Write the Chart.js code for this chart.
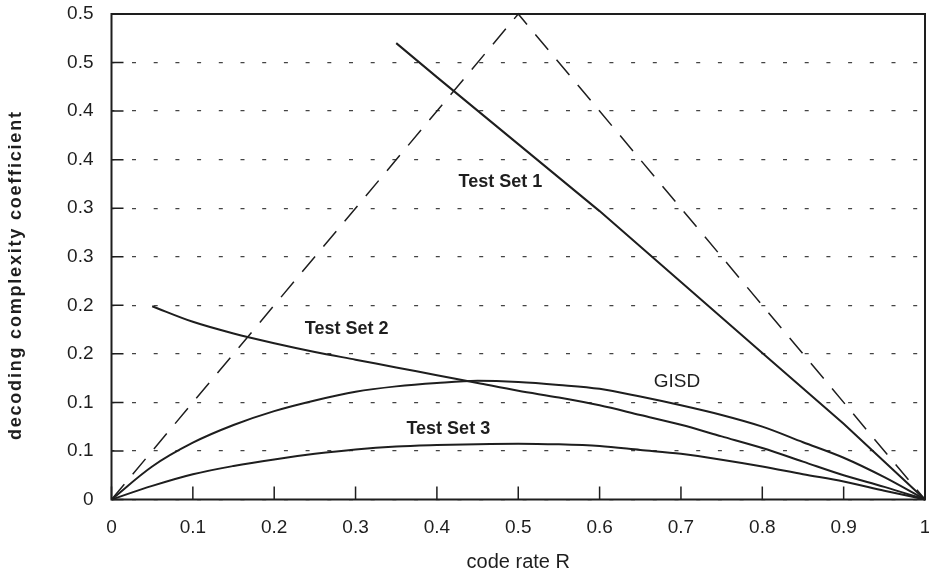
<!DOCTYPE html>
<html>
<head>
<meta charset="utf-8">
<script src="https://cdn.jsdelivr.net/npm/chart.js@4.4.1/dist/chart.umd.min.js"></script>
<style>
  html, body { margin: 0; padding: 0; background: #fff; }
  #wrap { width: 929px; height: 573px; }
</style>
</head>
<body>
<div id="wrap"><canvas id="complexityChart" width="929" height="573"></canvas></div>
<script>
// code rate R, sampled every 0.05
const rate = [0, 0.05, 0.1, 0.15, 0.2, 0.25, 0.3, 0.35, 0.4, 0.45, 0.5,
              0.55, 0.6, 0.65, 0.7, 0.75, 0.8, 0.85, 0.9, 0.95, 1];
const gisd = [0, 0.034, 0.0585, 0.0767, 0.091, 0.102, 0.111, 0.1165, 0.12, 0.1222, 0.121,
              0.118, 0.114, 0.106, 0.097, 0.087, 0.075, 0.059, 0.043, 0.023, 0];
const testSet2 = [null, 0.199, 0.183, 0.171, 0.161, 0.152, 0.144, 0.136, 0.128, 0.12, 0.112,
                  0.105, 0.097, 0.087, 0.077, 0.065, 0.053, 0.039, 0.025, 0.013, 0];
const testSet3 = [0, 0.014, 0.026, 0.0345, 0.0413, 0.047, 0.0515, 0.0545, 0.056, 0.057, 0.0575,
                  0.0568, 0.055, 0.051, 0.047, 0.041, 0.034, 0.026, 0.0185, 0.009, 0];
const testSet1Rate = [0.35, 0.4, 0.5, 0.6, 0.7, 0.8, 0.9, 1];
const testSet1 = [0.47, 0.435, 0.366, 0.297, 0.224, 0.151, 0.078, 0];
const boundRate = [0, 0.5, 1];
const bound = [0, 0.5, 0];

const xTickLabels = ['0', '0.1', '0.2', '0.3', '0.4', '0.5', '0.6', '0.7', '0.8', '0.9', '1'];
// the original prints the 0.05 steps rounded to one decimal
const yTickLabels = ['0', '0.1', '0.1', '0.2', '0.2', '0.3', '0.3', '0.4', '0.4', '0.5', '0.5'];

const yTitle = 'decoding complexity coefficient';

// curve names placed in data coordinates
const curveLabels = [
  { text: 'Test Set 1', r: 0.478, v: 0.327, bold: true },
  { text: 'Test Set 2', r: 0.289, v: 0.1754, bold: true },
  { text: 'GISD', r: 0.695, v: 0.1217, bold: false },
  { text: 'Test Set 3', r: 0.414, v: 0.0725, bold: true }
];

const ink = '#1e1e1e';
const fontFamily = "'Liberation Sans', Arial, Helvetica, sans-serif";

function toPoints(xs, ys) {
  return xs.map((x, i) => ({ x: x, y: ys[i] })).filter(p => p.y !== null);
}

function lineSet(label, xs, ys, extra) {
  return Object.assign({
    label: label,
    data: toPoints(xs, ys),
    borderColor: ink,
    borderWidth: 2,
    pointRadius: 0,
    fill: false,
    cubicInterpolationMode: 'monotone',
    clip: 4
  }, extra || {});
}

// drop the label overhang chart.js reserves, the box is placed by layout padding
function noOverhang(scale) {
  scale.paddingTop = 0;
  scale.paddingBottom = 0;
  scale.paddingLeft = 0;
  scale.paddingRight = 0;
}

// box, inward tick marks, curve names and the spaced-out y title
const framePlugin = {
  id: 'frame',
  afterDatasetsDraw(chart) {
    const ctx = chart.ctx;
    const area = chart.chartArea;
    const xs = chart.scales.x;
    const ys = chart.scales.y;
    ctx.save();
    ctx.strokeStyle = ink;
    ctx.lineWidth = 2;
    ctx.strokeRect(area.left, area.top, area.right - area.left, area.bottom - area.top);

    ctx.lineWidth = 1.5;
    ctx.beginPath();
    xs.ticks.forEach(t => {
      const px = xs.getPixelForValue(t.value);
      ctx.moveTo(px, area.bottom);
      ctx.lineTo(px, area.bottom - 13);
    });
    ys.ticks.forEach(t => {
      const py = ys.getPixelForValue(t.value);
      ctx.moveTo(area.left, py);
      ctx.lineTo(area.left + 12, py);
    });
    ctx.stroke();

    ctx.fillStyle = ink;
    ctx.textAlign = 'center';
    ctx.textBaseline = 'middle';
    curveLabels.forEach(l => {
      ctx.font = (l.bold ? 'bold 18px ' : '19px ') + fontFamily;
      ctx.fillText(l.text, xs.getPixelForValue(l.r), ys.getPixelForValue(l.v));
    });

    // y title sits a little below the middle of the axis in the original
    ctx.save();
    ctx.translate(16, ys.getPixelForValue(0.231));
    ctx.rotate(-Math.PI / 2);
    ctx.font = 'bold 18px ' + fontFamily;
    if ('letterSpacing' in ctx) ctx.letterSpacing = '1.8px';
    ctx.fillText(yTitle, 0, 0);
    ctx.restore();
    ctx.restore();
  }
};

const ctx = document.getElementById('complexityChart').getContext('2d');
new Chart(ctx, {
  type: 'line',
  data: {
    datasets: [
      lineSet('bound', boundRate, bound, { borderWidth: 1.5, borderDash: [20, 13], tension: 0, cubicInterpolationMode: 'default' }),
      lineSet('Test Set 1', testSet1Rate, testSet1, { tension: 0, cubicInterpolationMode: 'default' }),
      lineSet('Test Set 2', rate, testSet2),
      lineSet('GISD', rate, gisd),
      lineSet('Test Set 3', rate, testSet3)
    ]
  },
  options: {
    responsive: false,
    animation: false,
    layout: { padding: { top: 14, right: 4, left: 0, bottom: 0 } },
    plugins: {
      legend: { display: false },
      tooltip: { enabled: false }
    },
    scales: {
      x: {
        type: 'linear',
        min: 0,
        max: 1,
        afterFit(scale) { scale.height = 73.5; noOverhang(scale); },
        grid: { display: false, drawTicks: false },
        border: { display: false },
        ticks: {
          stepSize: 0.1,
          padding: 17,
          color: ink,
          font: { family: fontFamily, size: 19 },
          callback: (value, index) => xTickLabels[index]
        },
        title: {
          display: true,
          text: 'code rate R',
          color: ink,
          padding: 0,
          font: { family: fontFamily, size: 20, lineHeight: 1.1 }
        }
      },
      y: {
        type: 'linear',
        min: 0,
        max: 0.5,
        afterFit(scale) { scale.width = 111.5; noOverhang(scale); },
        grid: { color: '#444', lineWidth: 1.2, drawTicks: false },
        border: { display: false, dash: [4, 17.7], dashOffset: -20 },
        ticks: {
          stepSize: 0.05,
          padding: 18,
          color: ink,
          font: { family: fontFamily, size: 19 },
          callback: (value, index) => yTickLabels[index]
        },
        title: { display: false }
      }
    }
  },
  plugins: [framePlugin]
});
</script>
</body>
</html>
